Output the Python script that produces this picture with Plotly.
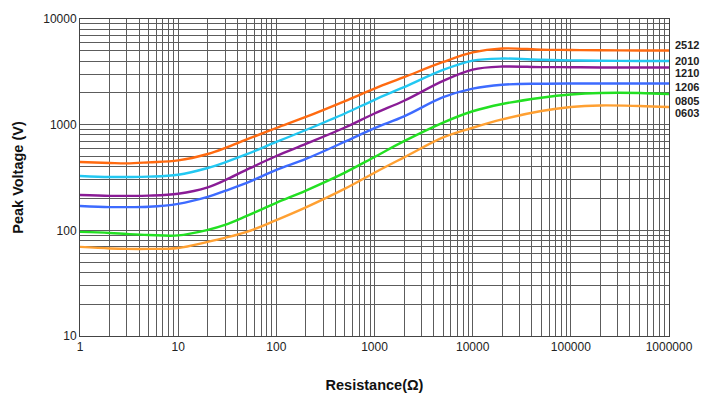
import math
import plotly.graph_objects as go

resistance = [1, 2, 3, 5, 10, 20, 30, 50, 100, 200, 500, 1000, 2000, 5000,
              10000, 20000, 50000, 100000, 200000, 500000, 1000000]

v_2512 = [444, 434, 430, 440, 459, 528, 600, 725, 930, 1182, 1670, 2195, 2814, 3920,
          4831, 5259, 5124, 5090, 5060, 5035, 5035]
v_2010 = [327, 320, 320, 322, 336, 389, 440, 525, 686, 890, 1276, 1720, 2264, 3292,
          4032, 4222, 4111, 4060, 4030, 4010, 4010]
v_1210 = [216, 212, 212, 213, 222, 255, 298, 375, 505, 657, 940, 1276, 1683, 2597,
          3321, 3547, 3501, 3500, 3477, 3477, 3477]
v_1206 = [170, 166, 166, 167, 178, 207, 236, 281, 373, 474, 690, 928, 1198, 1820,
          2195, 2390, 2443, 2454, 2454, 2454, 2454]
v_0805 = [96.6, 94.5, 92.4, 90.4, 89.5, 101, 112.5, 137, 182, 238, 352, 495, 698, 1047,
          1340, 1570, 1800, 1931, 1995, 1995, 1950]
v_0603 = [69.7, 67.4, 66.7, 66.7, 68, 77.7, 84.8, 96.6, 125, 165, 248, 351, 490, 758,
          935, 1122, 1348, 1471, 1520, 1502, 1471]

series_names = ["2512", "2010", "1210", "1206", "0805", "0603"]
series_values = [v_2512, v_2010, v_1210, v_1206, v_0805, v_0603]
series_colors = ["#FF6A10", "#22C8F2", "#8A1C96", "#3D6BFF", "#22E022", "#FFA032"]
label_y = [5690, 4020, 3095, 2280, 1683, 1298]

x_tickvals = [1, 10, 100, 1000, 10000, 100000, 1000000]
x_ticktext = ["1", "10", "100", "1000", "10000", "100000", "1000000"]
y_tickvals = [10, 100, 1000, 10000]
y_ticktext = ["10", "100", "1000", "10000"]

fig = go.Figure()
for name, vals, col in zip(series_names, series_values, series_colors):
    fig.add_trace(go.Scatter(
        x=resistance, y=vals, mode="lines", name=name,
        line=dict(color=col, width=2.4, shape="spline", smoothing=1.0),
        showlegend=False,
    ))

for name, ly in zip(series_names, label_y):
    fig.add_annotation(
        x=1, xref="paper", y=math.log10(ly), yref="y", text="<b>" + name + "</b>",
        showarrow=False, xanchor="left", yanchor="middle", xshift=4,
        font=dict(family="Liberation Sans, Arial", size=11, color="#222"),
    )

grid_col = "#5c5c5c"
tick_font = dict(family="Liberation Sans, Arial", size=12, color="#222")
fig.update_xaxes(
    type="log", range=[0, 6],
    tickvals=x_tickvals, ticktext=x_ticktext,
    showgrid=True, gridcolor=grid_col, gridwidth=1,
    minor=dict(showgrid=True, gridcolor=grid_col, gridwidth=1,
               tickvals=[m * 10 ** e for e in range(6) for m in range(2, 10)]),
    showline=True, linecolor="#444", linewidth=1, mirror=True,
    ticks="", tickfont=tick_font,
    title=dict(text="<b>Resistance(Ω)</b>", standoff=26,
               font=dict(family="Liberation Sans, Arial", size=14.5, color="#111")),
    zeroline=False, automargin=False,
)
fig.update_yaxes(
    type="log", range=[1, 4],
    tickvals=y_tickvals, ticktext=y_ticktext,
    showgrid=True, gridcolor=grid_col, gridwidth=1,
    minor=dict(showgrid=True, gridcolor=grid_col, gridwidth=1,
               tickvals=[m * 10 ** e for e in range(1, 4) for m in range(2, 10)]),
    showline=True, linecolor="#444", linewidth=1, mirror=True,
    ticks="", tickfont=tick_font,
    title=dict(text="<b>Peak Voltage (V)</b>", standoff=16,
               font=dict(family="Liberation Sans, Arial", size=14.5, color="#111")),
    zeroline=False, automargin=False,
)
# page body adds an 8px offset, so the figure is sized to fit the window
fig.update_layout(
    width=705, height=390,
    margin=dict(l=72, r=44, t=11, b=62, autoexpand=False),
    paper_bgcolor="white", plot_bgcolor="white",
)
fig.write_html("out.html")
